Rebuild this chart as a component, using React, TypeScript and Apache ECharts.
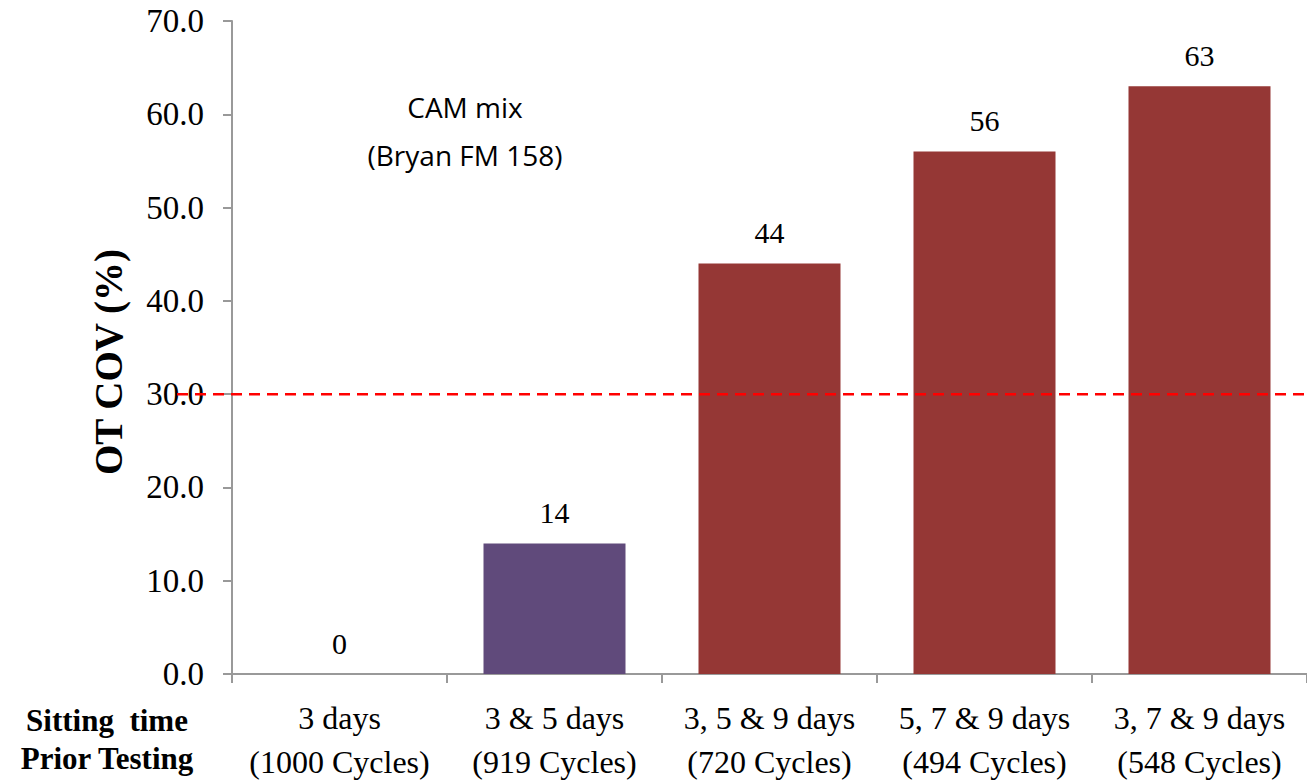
import React, { useEffect, useRef } from "react";
import * as echarts from "echarts";

// Sitting time before testing, with the number of cycles run
const categories = [
  "3 days\n(1000 Cycles)",
  "3 & 5 days\n(919 Cycles)",
  "3, 5 & 9 days\n(720 Cycles)",
  "5, 7 & 9 days\n(494 Cycles)",
  "3, 7 & 9 days\n(548 Cycles)",
];
// OT coefficient of variation (%)
const covValues = [0, 14, 44, 56, 63];
const barColors = ["#953735", "#604A7B", "#953735", "#953735", "#953735"];
const yTicks = { min: 0, max: 70, interval: 10 };
const threshold = 30;

const SERIF = "'Liberation Serif', 'Times New Roman', serif";
const SANS = "'Open Sans', 'Liberation Sans', Arial, sans-serif";

export default function App() {
  const ref = useRef<HTMLDivElement>(null);

  useEffect(() => {
    if (!ref.current) return;
    const chart = echarts.init(ref.current, null, { renderer: "svg" });
    chart.setOption({
      animation: false,
      grid: { left: 232, right: 0, top: 21, bottom: 104, containLabel: false },
      xAxis: {
        type: "category",
        data: categories,
        axisLine: { lineStyle: { color: "#999", width: 2 } },
        axisTick: { show: true, length: 9, lineStyle: { color: "#999", width: 2 } },
        axisLabel: {
          interval: 0,
          color: "#000",
          fontFamily: SERIF,
          fontSize: 32,
          lineHeight: 44,
          margin: 22,
        },
      },
      yAxis: {
        type: "value",
        min: yTicks.min,
        max: yTicks.max,
        interval: yTicks.interval,
        axisLine: { show: true, lineStyle: { color: "#999", width: 2 } },
        axisTick: { show: true, length: 9, lineStyle: { color: "#999", width: 2 } },
        splitLine: { show: false },
        axisLabel: {
          color: "#000",
          fontFamily: SERIF,
          fontSize: 33,
          margin: 28,
          formatter: (v: number) => v.toFixed(1),
        },
      },
      series: [
        {
          type: "bar",
          barWidth: 142,
          data: covValues.map((v, i) => ({ value: v, itemStyle: { color: barColors[i] } })),
          label: {
            show: true,
            position: "top",
            distance: 16,
            color: "#000",
            fontFamily: SERIF,
            fontSize: 30,
          },
        },
      ],
    });

    const yLine = chart.convertToPixel({ yAxisIndex: 0 }, threshold) as number;
    chart.setOption({
      graphic: [
        {
          type: "line",
          z: 100,
          shape: { x1: 177, y1: yLine, x2: 1307, y2: yLine },
          style: { stroke: "#ff0000", lineWidth: 2.5, lineDash: [11, 7] },
        },
        {
          // y-axis title
          type: "text",
          x: 108,
          y: 362,
          rotation: Math.PI / 2,
          style: {
            text: "OT COV (%)",
            align: "center",
            verticalAlign: "middle",
            fill: "#000",
            font: `bold 39px ${SERIF}`,
          },
        },
        {
          type: "text",
          x: 465,
          y: 131,
          style: {
            text: "CAM mix\n(Bryan FM 158)",
            align: "center",
            verticalAlign: "middle",
            fill: "#000",
            font: `28px ${SANS}`,
            lineHeight: 48,
          },
        },
        {
          type: "text",
          x: 107,
          y: 739,
          style: {
            text: "Sitting  time\nPrior Testing",
            align: "center",
            verticalAlign: "middle",
            fill: "#000",
            font: `bold 31px ${SERIF}`,
            lineHeight: 38,
          },
        },
      ],
    });

    return () => chart.dispose();
  }, []);

  return (
    <div
      ref={ref}
      style={{ position: "fixed", left: 0, top: 0, width: 1307, height: 784, background: "#fff" }}
    />
  );
}
